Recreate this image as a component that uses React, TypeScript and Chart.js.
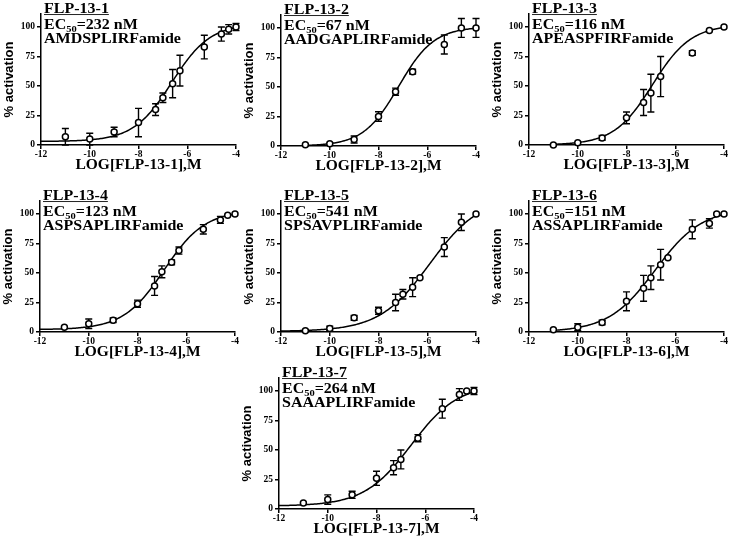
import React, { useEffect, useRef } from "react";
import { Chart, registerables } from "chart.js";

Chart.register(...registerables);

// ---------- data ----------
const doseLog = [-11, -10, -9, -8, -7.3, -7, -6.6, -6.3, -5.3, -4.6, -4.3, -4];
const xTicks = [-12, -10, -8, -6, -4];
const yTicks = [0, 25, 50, 75, 100];

const peptideNames = ["FLP-13-1", "FLP-13-2", "FLP-13-3", "FLP-13-4", "FLP-13-5", "FLP-13-6", "FLP-13-7"];
const ec50Labels = ["232", "67", "116", "123", "541", "151", "264"];
const sequences = [
  "AMDSPLIRFamide",
  "AADGAPLIRFamide",
  "APEASPFIRFamide",
  "ASPSAPLIRFamide",
  "SPSAVPLIRFamide",
  "ASSAPLIRFamide",
  "SAAAPLIRFamide",
];

const resp1 = [7, 5, 11, 19, 30, 40, 52, 63, 83, 94, 98, 100];
const err1 = [7, 5, 4, 12, 5, 4, 12, 13, 10, 6, 4, 3];
const resp2 = [1, 2, 5.5, 25, 46, null, 63, null, 86, 100, null, 100];
const err2 = [0, 0, 3, 4, 3, null, 2, null, 8, 8, null, 8];
const resp3 = [0, 2, 6, 23, 36, 44, 58, null, 78, 97, null, 100];
const err3 = [0, 0, 2, 5, 11, 16, 17, null, 2, 0, null, 0];
const resp4 = [4, 7, 10, 24, 39, 51, 59, 69, 87, 95, 99, 100];
const err4 = [0, 4, 2, 3, 8, 5, 2, 3, 4, 3, 0, 0];
const resp5 = [1, 3, 12, 18, 25, 32, 38, 46, 72, 93, null, 100];
const err5 = [0, 2, 2, 3, 7, 4, 8, 0, 8, 7, null, 0];
const resp6 = [2, 4, 8, 26, 37, 46, 57, 63, 87, 92, 100, 100];
const err6 = [0, 3, 2, 8, 11, 10, 13, 0, 8, 4, 0, 0];
const resp7 = [5, 8, 12, 26, 35, 42, null, 60, 85, 97, 100, 100];
const err7 = [0, 4, 3, 6, 6, 8, null, 3, 8, 5, 0, 3];

const responses = [resp1, resp2, resp3, resp4, resp5, resp6, resp7];
const errors = [err1, err2, err3, err4, err5, err6, err7];

// fitted curve parameters (4-parameter logistic)
const curveBottom = [3, 0, 0, 2, 0.5, 0, 2.5];
const curveTop = [103, 101, 102, 103, 115, 105, 106];
const curveLogMid = [-6.634, -7.174, -6.936, -6.91, -5.9, -6.82, -6.578];
const curveHill = [0.55, 0.6, 0.55, 0.52, 0.42, 0.45, 0.45];
const curveStart = [-12, -11, -11, -12, -12, -11, -12];

// ---------- layout ----------
const panelAxisX = [41, 281, 529, 40, 281, 529, 279];
const panelZeroY = [145, 146, 145, 332, 332, 332, 509];
const UNIT_PX = 1.18; // px per % unit
const Y_MAX = 111;
const Y_AXIS_W = 41;
const X_AXIS_H = 30;
const PAD_TOP = 10;
const PAD_RIGHT = 10;
const PLOT_W = 195;

const serif = "'Liberation Serif', 'Times New Roman', serif";
const sans = "'Liberation Sans', Arial, sans-serif";

const errorBarPlugin = {
  id: "errorBars",
  beforeDatasetsDraw(chart: any, _args: any, opts: any) {
    const errs: number[] = opts.errors || [];
    const ds = chart.data.datasets[0];
    const { ctx } = chart;
    const xs = chart.scales.x;
    const ys = chart.scales.y;
    ctx.save();
    ctx.strokeStyle = "#000";
    ctx.lineWidth = 1.4;
    ds.data.forEach((p: any, i: number) => {
      const e = errs[i];
      if (!e) return;
      const px = xs.getPixelForValue(p.x);
      const t = ys.getPixelForValue(p.y + e);
      const b = ys.getPixelForValue(p.y - e);
      ctx.beginPath();
      ctx.moveTo(px, t);
      ctx.lineTo(px, b);
      ctx.moveTo(px - 3.5, t);
      ctx.lineTo(px + 3.5, t);
      ctx.moveTo(px - 3.5, b);
      ctx.lineTo(px + 3.5, b);
      ctx.stroke();
    });
    ctx.restore();
  },
};

const lineStyle = (top: number, left: number): React.CSSProperties => ({
  position: "absolute",
  left,
  top,
  fontFamily: serif,
  fontWeight: "bold",
  fontSize: 16,
  lineHeight: "16px",
  color: "#000",
  whiteSpace: "nowrap",
  transform: "scaleY(0.86)",
  transformOrigin: "left center",
});

function Panel({ idx }: { idx: number }) {
  const ref = useRef<HTMLCanvasElement>(null);
  const plotH = Y_MAX * UNIT_PX;
  const canvasLeft = panelAxisX[idx] - Y_AXIS_W;
  const canvasTop = panelZeroY[idx] - plotH - PAD_TOP;
  const canvasW = Y_AXIS_W + PLOT_W + PAD_RIGHT;
  const canvasH = PAD_TOP + plotH + X_AXIS_H;
  const y100 = panelZeroY[idx] - 100 * UNIT_PX;

  useEffect(() => {
    if (!ref.current) return;
    const resp = responses[idx];
    const err = errors[idx];
    const pts: { x: number; y: number }[] = [];
    const errs: number[] = [];
    doseLog.forEach((x, i) => {
      const v = resp[i];
      if (v !== null && v !== undefined) {
        pts.push({ x, y: v });
        errs.push(err[i] || 0);
      }
    });
    const b = curveBottom[idx];
    const t = curveTop[idx];
    const m = curveLogMid[idx];
    const h = curveHill[idx];
    const curve: { x: number; y: number }[] = [];
    for (let k = 0; ; k++) {
      const x = curveStart[idx] + k * 0.05;
      if (x > -4 + 1e-9) break;
      curve.push({ x, y: b + (t - b) / (1 + Math.pow(10, (m - x) * h)) });
    }

    const tickFont = { family: serif, size: 9.5, weight: "bold" as const };
    const chart = new Chart(ref.current, {
      type: "scatter",
      data: {
        datasets: [
          {
            data: pts,
            order: 1,
            pointRadius: 3,
            pointBorderWidth: 1.5,
            pointBackgroundColor: "#fff",
            pointBorderColor: "#000",
            showLine: false,
            clip: false as any,
          },
          {
            data: curve,
            order: 2,
            showLine: true,
            pointRadius: 0,
            borderColor: "#000",
            borderWidth: 1.5,
            tension: 0,
            clip: false as any,
          },
        ],
      },
      options: {
        responsive: false,
        animation: false,
        devicePixelRatio: 1,
        layout: { padding: { top: PAD_TOP, right: PAD_RIGHT, left: 0, bottom: 0 } },
        plugins: {
          legend: { display: false },
          tooltip: { enabled: false },
          errorBars: { errors: errs },
        } as any,
        scales: {
          x: {
            type: "linear",
            min: -12,
            max: -4,
            afterBuildTicks: (s: any) => {
              s.ticks = xTicks.map((v) => ({ value: v }));
            },
            ticks: { font: tickFont, color: "#000", padding: 0, maxRotation: 0 },
            grid: { drawOnChartArea: false, drawTicks: true, tickLength: 4, color: "#000", lineWidth: 1.5 },
            border: { display: true, color: "#000", width: 1.5 },
            title: {
              display: true,
              text: `LOG[${peptideNames[idx]}],M`,
              font: { family: serif, size: 15.5, weight: "bold" },
              color: "#000",
              padding: { top: 0, bottom: 0.5 },
            },
            afterFit: (s: any) => {
              s.height = X_AXIS_H;
            },
          },
          y: {
            type: "linear",
            min: 0,
            max: Y_MAX,
            afterBuildTicks: (s: any) => {
              s.ticks = yTicks.map((v) => ({ value: v }));
            },
            ticks: { font: tickFont, color: "#000", padding: 2 },
            grid: { drawOnChartArea: false, drawTicks: true, tickLength: 4, color: "#000", lineWidth: 1.5 },
            border: { display: true, color: "#000", width: 1.5 },
            title: {
              display: true,
              text: "% activation",
              font: { family: sans, size: 13, weight: "bold" },
              color: "#000",
              padding: { top: 2, bottom: 0 },
            },
            afterFit: (s: any) => {
              s.width = Y_AXIS_W;
            },
          },
        },
      } as any,
      plugins: [errorBarPlugin],
    });
    return () => chart.destroy();
  }, [idx]);

  const textLeft = panelAxisX[idx] + 3;
  return (
    <>
      <canvas
        ref={ref}
        width={canvasW}
        height={Math.round(canvasH)}
        style={{
          position: "absolute",
          left: canvasLeft,
          top: Math.round(canvasTop),
          width: canvasW,
          height: Math.round(canvasH),
          display: "block",
        }}
      />
      <div style={{ ...lineStyle(Math.round(y100 - 26.5), textLeft), textDecoration: "underline" }}>
        {peptideNames[idx]}
      </div>
      <div style={lineStyle(Math.round(y100 - 10.5), textLeft)}>
        EC
        <span style={{ fontSize: 10.5, position: "relative", top: 3, lineHeight: 0 }}>50</span>={ec50Labels[idx]} nM
      </div>
      <div style={lineStyle(Math.round(y100 + 3.5), textLeft)}>{sequences[idx]}</div>
    </>
  );
}

export default function App() {
  return (
    <div
      style={{
        position: "absolute",
        left: 0,
        top: 0,
        width: 733,
        height: 540,
        overflow: "hidden",
        background: "#fff",
      }}
    >
      {peptideNames.map((_, i) => (
        <Panel key={i} idx={i} />
      ))}
    </div>
  );
}
